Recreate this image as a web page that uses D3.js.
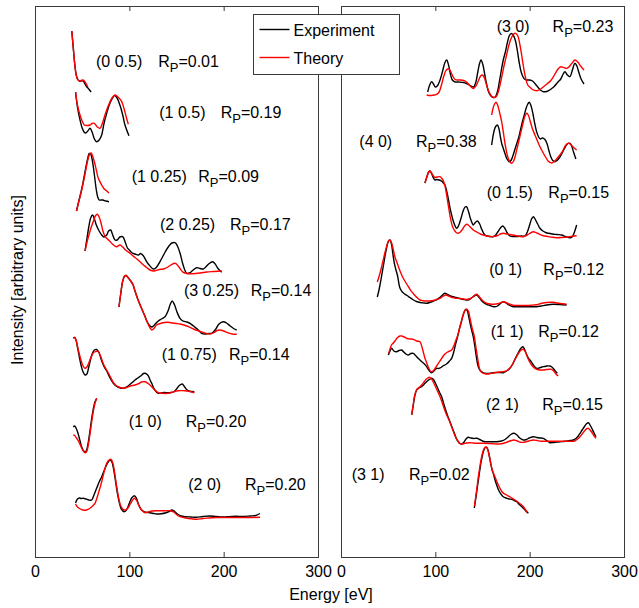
<!DOCTYPE html>
<html>
<head>
<meta charset="utf-8">
<script src="https://cdn.jsdelivr.net/npm/d3@7"></script>
<style>
  body { margin: 0; background: #fff; }
  svg { font-family: "Liberation Sans", Arial, Helvetica, sans-serif; }
</style>
</head>
<body>
<svg id="chart" width="639" height="608"></svg>
<script>
// beams, left panel
var leftBeams = ["(0 0.5)", "(1 0.5)", "(1 0.25)", "(2 0.25)", "(3 0.25)", "(1 0.75)", "(1 0)", "(2 0)"];
var leftRp = ["0.01", "0.19", "0.09", "0.17", "0.14", "0.14", "0.20", "0.20"];
// beams, right panel
var rightBeams = ["(3 0)", "(4 0)", "(0 1.5)", "(0 1)", "(1 1)", "(2 1)", "(3 1)"];
var rightRp = ["0.23", "0.38", "0.15", "0.12", "0.12", "0.15", "0.02"];

var xTicks = [0, 100, 200, 300];

// I(V) curves as [energy eV, intensity (arb. units, stacked)]
var exp_0_05 = [[39,526],[40.5,510],[42,494],[43.5,483],[45,478],[47,476],[49,476],[51,476],[53,473],[55,470],[57,468],[59.5,465]];
var thy_0_05 = [[39,526],[40.5,510],[42,494],[43.5,483],[45,478],[47,476],[49,476.5],[51,477],[53,475],[55,472],[56,470]];

var exp_1_05 = [[43,465],[45,450],[47.5,438],[50,429],[52,425],[53.7,424],[56,426],[58.3,428.7],[60.5,425],[63,418],[65.4,415.3],[68,417],[70.7,422],[73,433],[76,443.7],[80,455],[84.5,461.5],[87,459],[90,452],[93,442],[95.4,432],[99.6,421.3]];
var thy_1_05 = [[43,465],[45,452],[47.7,442],[50,436],[52.3,432],[55.5,431.5],[58.3,432],[60.5,433.5],[62.9,433.7],[66,430],[68.9,428.7],[71.5,434],[74.2,442],[78,452],[82,459.5],[84.8,462],[88,460],[91.9,455.3],[94.5,448],[97,439],[98.9,432.7]];

var exp_1_025 = [[44,346],[46,354],[48,362],[50,370],[52,380],[54,390],[56,399],[57.5,403.5],[59,403],[60.5,398],[62,389],[63.5,378],[65,367],[66.5,360],[68,357],[70,357],[72,357],[75,356],[78.4,355.3]];
var thy_1_025 = [[44,346],[46,354],[48,361],[50,369],[52,378],[54,388],[56,397],[58,403],[59.5,404],[61,401],[63,395],[65,387],[67,379],[70.7,372],[73,368.5],[75.5,366.5],[78.4,364]];

var exp_2_025 = [[53,306],[55,318],[57,330],[59,339],[61,342],[63,338],[65,332],[68,326],[70.7,322],[73,320],[76,322],[78,326],[80.2,327],[82,323],[84.8,317],[87,317],[90,320],[93,320.3],[96,314],[98,309],[100,307],[103,304],[106,303],[109.5,302],[112,303.5],[115,301],[118,296],[121,292],[125.4,288],[128,289],[131,293],[134,298],[138,305],[142,311],[145,314],[148.4,314.3],[151,311],[154,303],[157,292],[160.8,283.7],[164,284],[167,286.5],[171.4,289.3],[175,288.5],[178.4,288],[181,290],[184,293],[188.3,295.3],[191,293],[194,288.5],[197.9,284.7]];
var thy_2_025 = [[53,306],[56,318],[59,328],[62,336],[64,341],[66,342.7],[68,340],[70,334],[72,326],[74,321],[76,318.7],[79,316],[82,313],[84.5,311],[86.6,310.3],[90.1,312],[93,310],[96,307],[100.7,303.7],[104,301],[108,298],[111.3,295.3],[115,292],[119,289],[122,287],[125.4,286],[128,286.5],[132,287.5],[136,288],[140,289.5],[144,292],[148.4,293.7],[151,292],[154,288],[157.2,284.7],[162,283.5],[167,283.3],[175,284],[182,285],[190,285.5],[197.9,286]];

var exp_3_025 = [[89,250],[91,264],[93,276],[95,281],[96.5,281.5],[99,279],[101.5,276],[104,272],[106,266],[108.5,259],[111,253],[113,248.5],[116,242],[119,235],[122,231],[124,230],[127,232.5],[130.7,236],[134,238],[137.8,240.3],[141,246],[143.5,253],[145.5,256],[148,252],[150.5,245],[153.7,238.7],[157,236],[161,235],[164.3,233.7],[168,231],[172,228],[176.7,223.7],[180,223],[184,223.5],[187.3,223.7],[191,227],[195,233],[199.6,235.3],[203,234],[207,231],[210.5,228.5],[213.8,227]];
var thy_3_025 = [[89,250],[91,264],[93,276],[95,281],[96.5,281.5],[99,279],[101.5,276],[104,272],[106,266],[108.5,259],[111,253],[113,248.5],[116,242],[119,235],[122,229],[124,227],[126.5,229],[128.9,232],[133,233.5],[137,234.5],[141.3,234.7],[146,234],[150,233.5],[153.7,233],[158,232],[161,231],[164.3,229.7],[168,228],[172,226.5],[175,225.5],[178.4,224.7],[182,223.5],[185.5,223],[190,224.5],[193,226.5],[196.1,227],[200,226],[204,224.5],[209,223],[213.8,222.7]];

var exp_1_075 = [[40.5,219],[42,219.5],[43.5,217],[45,210],[47,200],[49,191],[51,185],[53,182],[55,183],[57,190],[59,198],[61,204],[63,207],[65.4,207.5],[68,204],[70,198],[72,193],[74,189],[76,186],[79,180],[83,173.7],[86,171],[89,169.5],[93.6,168.7],[97,170],[100,172],[103,174.5],[106,177],[109,179],[112,181],[115,183.5],[116.6,183.7],[119.5,182],[122,177],[123.7,173.7],[127,167],[130.7,163.7],[134,164],[137,164.5],[141.3,164.3],[144,164.5],[147,165],[150,168],[153,171.5],[156.1,173],[158,171],[160.5,167.7],[163,166],[166,165.5],[168.9,165.3]];
var thy_1_075 = [[40.5,219],[42,219.5],[43.5,217],[45,211],[47,203],[49,196],[51,191],[53,188.7],[55,190],[57,194],[59,199],[61,203],[63,205],[67,205.5],[69,202],[71,197],[73,192],[76,187],[80,180],[83,174.5],[86,171.5],[89,170],[93.6,168.7],[97,169.5],[101,171],[106,172],[110,173.5],[113,175],[116.6,175.3],[120,173.5],[123.7,170.3],[127,167],[130.7,164.3],[135,163.7],[141.3,163.7],[146,165],[151.9,166.3],[155,166.4],[159,166.3],[163,165.7],[168.9,164.3]];

var exp_1_0 = [[40.6,130],[42,131],[43.5,129],[45.5,124],[47.5,117],[49.5,110],[51.5,106],[53,105.3],[54.5,106.5],[56,112],[57.5,121],[59,131],[60.5,141],[62,149],[63.5,155],[65.4,158.7]];
var thy_1_0 = [[40.6,122],[42,121.5],[44,119],[46,116],[48,112],[50,108],[52,105],[53.7,104.3],[55,106],[56.5,112],[58,121],[59.5,131],[61,141],[62.5,149],[64,155],[65.5,158.5]];

var exp_2_0 = [[43,54],[45,58],[47,59],[49,58.5],[51.2,58.7],[54,58],[57,57],[60.1,57],[62.5,62],[65,68],[68,75],[70.7,80.3],[74,88],[77,94],[79.5,97],[81.5,95],[83.5,87],[85.5,75],[87.5,63],[89.5,54],[91.5,48],[94.7,45.3],[96.5,46.5],[98.5,50],[100.5,55],[102.5,59],[105.3,61.3],[107.5,59],[110,52],[113.1,47],[116,45],[121.9,44.3],[126,43.5],[128.9,43],[134,43.3],[138,44],[142,45.5],[145,47],[148,45.5],[151,43],[155,41],[159,40.3],[165,40],[171,39.7],[178,40.5],[185,41],[192,40.5],[199,40],[206,40.3],[213,40.7],[220,40.5],[228,41],[234,41.5],[238.5,43.5]];
var thy_2_0 = [[43,53],[45,50],[48,48],[51,47],[54.8,47],[57,48],[60,50],[63.6,53.7],[66,60],[68.5,68],[70.7,75.3],[73.5,86],[76,93.7],[78.5,97],[80.6,97.7],[82.5,94],[84.5,84],[86.6,70.3],[88.5,60],[90.5,52],[93,48],[96,47],[98.5,49],[101,53],[103.5,57],[105.5,58.7],[108,56],[110.5,50.5],[113,47],[116.6,44.3],[120,45],[124,46],[128.9,46.3],[134,46.3],[139,46.3],[143.1,46.3],[147,45],[150,42.5],[153.7,40.3],[160,39],[166,38.2],[171.4,37.7],[178,38.5],[185,39],[192,39.5],[200,39.5],[210,39.5],[220,39.5],[230,39.5],[238.5,39.7]];

var exp_3_0 = [[91.9,465],[94,472],[96.1,475.3],[98,473],[100,470],[102,471],[105,477],[108,487],[110,494],[112,497],[114,492],[116,483],[118,477],[121,475],[124,475],[127,474.7],[130,474.5],[133,473.5],[136,472],[138.5,470.5],[140.5,470],[143,475],[145,485],[147,494],[148.4,497],[150.5,492],[152.5,482],[154.5,472],[156.5,465],[159,461],[161.5,459.5],[163.5,460],[166,466],[168,476],[170,487],[172,497],[174.5,506],[176.5,515],[178.5,521.5],[180.5,523.5],[182.5,522],[185,516],[187,506],[189,494],[191,485],[193,480],[195,477.5],[197,477],[200,477],[203,476],[206,473],[209,469.5],[212,466.5],[214.5,465.3],[218,465.5],[222,467.5],[226,470.5],[230,475],[233,478],[235.5,483],[237.4,485.3],[240,482],[242.7,480.3],[245,486],[248,493.7],[250,491],[252,485],[254.5,478],[257.6,473]];
var thy_3_0 = [[90.8,462],[93,461.5],[96,461.5],[99,462],[101.4,462.7],[104,465],[106.5,472],[109,481],[111,486],[113,488],[115,487.5],[117,484],[119,480],[121,477.5],[124,477],[127,477],[130,476.5],[133,475],[136,472],[138.5,469.5],[140.5,468.5],[143,471],[145.5,476],[148,481],[150,482],[152,479],[154,473],[156.5,466],[159,461.5],[161,459.8],[163.2,459.7],[165,461],[167,466],[169,474],[171,483],[173,492],[175.5,502],[178,512],[180.5,519],[183,523],[185.2,523.7],[187.5,521],[189.5,513],[191.5,502],[193.5,490],[195.5,480],[198,472],[200.3,469.7],[203,467.5],[207.4,466.3],[211,467.5],[215,470.5],[219,473.5],[222,476],[225,480],[228,485],[231,489],[233,490.3],[236,489.5],[239.5,488.7],[242,490.5],[245,494],[248,497],[251,495],[254,491],[257.6,487]];

var exp_4_0 = [[159.7,412],[161,420],[162.5,427],[164,430.5],[165.8,432],[167.5,428],[169,420],[170.5,413],[172,408.7],[174,403],[176,398],[178.4,395.3],[180.5,397],[182.5,402],[184.5,408],[186.5,414],[188.5,420],[190,426],[192,434],[194,441],[196,448],[198,453],[199.6,454.7],[201.5,451],[203.5,443],[205.5,433],[207.4,425.3],[209.5,420],[211.5,418],[213.5,419],[216.2,417.5],[218.5,413],[220.5,406],[222.5,400],[224.5,396.5],[226.8,395.3],[229,396.5],[232,400],[235,405],[238,410.5],[240.5,413.5],[242.7,413.7],[244.5,411],[246.5,405],[249,398]];
var thy_4_0 = [[159.7,442],[161,448],[162.5,452.5],[164.3,454.7],[166,452],[168,445],[170.3,435.3],[172.5,422],[174.5,410],[176.5,401],[178.5,396],[180.9,393.7],[183,396],[185,402],[187,410],[189,418],[191,426],[193,434],[195,441],[196.8,443.7],[198.5,442],[200.5,436],[203,428],[205.6,422],[208,416.5],[210.5,411],[212.7,407],[215,403],[217.5,399],[219.5,396],[221.5,394.7],[223.5,394],[226,395.5],[229,398.5],[232,402],[235,406],[238,411.5],[240.9,413.7],[243,413],[246,410],[249.8,407]];

var exp_0_15 = [[89,374],[91,380],[93,385],[94.3,386],[96,383.5],[98,379],[99.6,377],[101.5,377.5],[104,377],[106.5,376],[108.5,374],[110.2,372],[112,366],[114,357],[116,347],[117.3,342],[119,336],[121,331],[122.6,328.7],[124.5,331],[127,338],[129.5,346],[131.5,350],[133,350.3],[135,346],[137,339],[139,334],[140.2,332],[142,334],[144.5,336],[147,333],[149,328],[151,324],[152.6,322],[155,321],[158,320.5],[161.4,320.3],[164,322],[166.5,325.5],[169,329],[171.4,331],[173.5,329],[176,324.5],[179.1,321],[183,320.5],[187,320.5],[191,321],[195,321],[197.5,325],[200,332],[202,338],[203.9,340.3],[206,337.5],[208.5,333],[210.9,328.7],[214,326],[217,324.5],[219.8,323.7],[224,323],[229,322.5],[233.9,322],[238,320.5],[242.7,319.3],[245,320],[247.5,325],[249.8,332]];
var thy_0_15 = [[89,374],[91,380],[93,385],[94.3,386],[96,384],[98,381],[100,379.5],[102,380],[104.9,380.3],[107,378.5],[109,375],[110.5,370],[112,362],[114,350],[116,339],[118,331],[120,327],[122,324.5],[124.3,323.7],[126.5,325],[129,328],[131,331],[133.2,332.7],[135.5,331.5],[138,329],[140.2,327],[143,325.5],[146,324],[149,322.5],[151,322],[154,321],[158,320.5],[162,320.5],[166,321.5],[169,323],[172,323.7],[176,323],[179,322.5],[182.5,322],[186,321.3],[190,320.5],[193.3,320.3],[196.5,321.5],[200,323.5],[203.9,325.3],[207.5,324],[211,322.5],[214.5,321.3],[219,320.5],[224,319.7],[228.6,319.3],[234,319.5],[240,320],[245,320.8],[249.8,321.3]];

var exp_0_1 = [[38.5,260],[40.5,268],[42.5,278],[44.5,289],[46.5,300],[48.5,310],[50.2,315.5],[51.9,317],[53.5,313],[55,303],[56.5,294],[58,288],[60,281],[62.5,269],[65,265],[67.5,263],[70,261.5],[73,259.5],[76,257.5],[80,255.5],[84,254.5],[88,254],[91,253.7],[94,254.5],[97,255.5],[101,257],[104,259],[107,261.5],[110,263.7],[113,262.5],[116,261],[119,260.3],[122,259.5],[126,258.5],[130,257.5],[133,257],[136,257.5],[139,259.5],[142,261.5],[144,262],[146,260],[148.5,257],[151,254.5],[154.4,252.7],[158,251.5],[161,250.5],[163.2,250.3],[166,251],[169,253.5],[172,255.3],[175,254],[178,252],[182.5,250.3],[188,250.3],[195,250.3],[202,250.3],[207,250.3],[212,251],[218,252],[225,252.7],[232,252.5],[239.2,252]];
var thy_0_1 = [[38.5,275],[40.5,281],[42.5,288],[44.5,296],[46.5,304],[48.5,311],[50.3,316],[51.9,317],[53.5,314.5],[55.5,307],[57.5,299],[59,295.3],[61,290],[63,285],[66,278.7],[69,274],[72,269.5],[74.9,265.3],[78,262],[81,259],[83.7,257],[87,256.3],[90,256],[94.3,256],[98,256.5],[101,257.5],[104.9,258.7],[108,260.5],[111,262],[114,261],[118,259.3],[122,258.7],[126,258.5],[130,258],[133,257.5],[136,258],[139,259.5],[142,262],[143.8,262.7],[146,261],[149,257.5],[152,255],[155,253.5],[158,253],[162,252.8],[166,253.2],[170,254.5],[172,255.3],[175,254.5],[178,253],[182.5,251.7],[188,251.5],[195,251.5],[202,251.8],[207,252.3],[212,253.5],[218,254.5],[225,254.7],[232,253.5],[239.2,252.7]];

var exp_1_1 = [[50.2,202],[52,206],[53.7,208.7],[56,206],[59,205.3],[61.5,206.5],[64.3,207],[67,204.5],[69.5,202.5],[71.4,202],[74,203.5],[76.6,203.7],[79,201.5],[81.5,199],[83.7,197],[86,195],[88.5,193],[90.8,190.3],[93,187],[94.8,185],[96.1,184.3],[98,185.5],[100,187.5],[101.4,188.7],[103.5,188.5],[106,189.5],[108,191],[110.2,192],[112.5,193.5],[115,196],[117.3,198.7],[119.5,205],[121.5,213],[123.5,220],[125.5,228],[127.5,235],[129.5,242],[131,246],[132.5,247.7],[134,246],[135.5,240],[137,233],[138.5,227],[140.2,220.3],[142,210],[143.5,200],[145.5,190.3],[148,186],[150.5,184.5],[152.6,183.7],[156,183.5],[160,184],[164,184.5],[168,184.5],[172,184.3],[175.5,186],[179.1,188.7],[182,193],[185,199],[188,204.5],[190.5,208.5],[192.6,210.3],[194.5,208],[196.5,203],[198.5,199],[200.3,197],[202.5,194],[205,190.5],[207.4,188.7],[210,189],[213,190],[216,190.5],[218.5,191],[221.5,191],[223.5,190],[225.5,188],[227.5,185.5],[229.3,183.7]];
var thy_1_1 = [[50.5,203.7],[52,208],[53.5,212],[55.5,214],[57.5,216.5],[60,219.5],[62.5,221],[64.3,221],[67,220],[70,218.5],[73,218],[76.6,217.7],[80,216],[83.7,215.3],[85.5,211],[87.5,204],[89,198.7],[91,193.7],[93,189],[95.4,185.3],[97.5,186],[100,189],[103.2,193.7],[106,197.5],[108,200.5],[110.2,203],[113,205],[117.3,207],[119.5,211],[121.5,216],[123.5,221],[125.5,228],[127.5,235],[129.5,242],[131.5,246.5],[133.2,247.7],[135,246],[136.5,240],[138,233],[139.5,227],[141,222],[143,210],[145,198],[147.3,187],[150,184],[154.4,183],[158,183.5],[163,184.3],[168,185],[172,185.3],[176,186.5],[179,189],[182,193],[185,198.5],[188,203.5],[191,207],[193.3,207.7],[195.5,205],[198,199],[200,195],[202,192],[205,189],[208,187.5],[211,187],[214.5,187],[218,187.5],[221,187.8],[223.3,187.7],[225.5,186],[227.8,183],[230.3,181]];

var exp_2_1 = [[74.9,142],[76.5,151],[78,160],[80.2,167],[82.5,169],[85.5,170.3],[87.5,172],[89,173.7],[91,175.5],[93,177],[94.5,178],[96.1,178.7],[98,177.5],[100,174],[102.5,169],[104.5,164.5],[106.7,160.3],[109,153],[111.5,145.5],[113.5,140],[115.5,135.3],[118,129],[120.5,123],[122.5,118],[124.3,115.3],[126,113.5],[127.9,113],[130,114.5],[132.5,118],[134.9,119.7],[137.5,119],[140.5,118.5],[143.8,118.7],[147,117.5],[150,116],[152.6,115.3],[157,115.3],[161,115.3],[165,115.3],[169,115.8],[173,117],[176.5,119.5],[180,122.5],[183.4,123.7],[186.5,122],[189.5,119],[193.3,117],[196.5,117.5],[199.5,119],[203.9,120.3],[207.5,119.5],[211,119],[214.5,118.7],[218,116.5],[221.5,114.3],[225,114.5],[228.5,115],[232.1,115.3],[236,115.5],[240,116],[243,116.5],[246.3,117],[249,118.5],[251.5,121],[253.4,123.7],[256,127.5],[258.5,131],[260.5,133.5],[262.2,134.3],[264,132],[266,128.5],[268,124.5],[270.3,120.3]];
var thy_2_1 = [[74.9,142],[76.5,152],[78,161],[80,167],[82,169],[84,170.5],[86,172.5],[88,175],[90,177.5],[92,179],[93.6,179.7],[95.5,178.5],[97.5,175.5],[99.5,171.5],[102,166.5],[104.5,161.5],[107,155],[109.5,148],[112,142],[114.5,137],[117,131],[119.5,124.5],[122,119],[124.3,115.5],[126,113.5],[127.9,113],[130,113.3],[133,114],[136.7,114.3],[140,114],[145,113.7],[150.9,113.7],[156,113.5],[161,113.2],[165,113],[170,113.3],[175,114.5],[179,116],[183.4,117],[187,116],[190.5,114.7],[194,114.8],[199,116],[203.9,117],[208,116.5],[212,115.8],[216,115.7],[221,115.7],[226,115.7],[231,115.7],[236,115.7],[241,115.7],[246.3,115.7],[249,116.8],[251.5,118.5],[253.4,120.3],[256,123.5],[258.5,126.5],[260.5,128.3],[262.2,128.7],[264,127],[266,124.5],[268,121.5],[270.3,118.7]];

var exp_3_1 = [[141.3,49],[142.5,56],[144,66],[145.5,76],[147,86],[148.5,95],[150,102],[151.5,107],[153,109.5],[154.4,109.7],[155.8,107],[157.2,101],[158.8,93],[160.2,87],[161.4,83.7],[163,78],[165,72],[167,67],[169.5,63],[172,60.3],[175,59],[178,58],[181,57.7],[183.5,56.5],[186.3,55.3],[189,52.5],[192,50],[195,47],[198.6,43.7]];
var thy_3_1 = [[141.5,51],[142.5,58],[143.8,67],[145,76],[146.5,86],[148,95],[149.5,102],[151,107],[152.5,109.5],[154,110],[155.5,107.5],[157,102],[158.5,95],[160,88],[161.5,84],[163.2,80.3],[165,76],[166.8,72],[168.5,68.7],[170.5,65.5],[172.5,63.5],[175.6,62],[178.5,60.3],[181.5,58.7],[184.4,57],[187.5,55],[189.5,53.5],[191.5,52],[194,49.5],[197.5,44.3]];

var leftExp = [exp_0_05, exp_1_05, exp_1_025, exp_2_025, exp_3_025, exp_1_075, exp_1_0, exp_2_0];
var leftThy = [thy_0_05, thy_1_05, thy_1_025, thy_2_025, thy_3_025, thy_1_075, thy_1_0, thy_2_0];
var rightExp = [exp_3_0, exp_4_0, exp_0_15, exp_0_1, exp_1_1, exp_2_1, exp_3_1];
var rightThy = [thy_3_0, thy_4_0, thy_0_15, thy_0_1, thy_1_1, thy_2_1, thy_3_1];

// where each label sits, in energy / intensity
var leftNameE = [64.7, 131.7, 102.5, 132.5, 157.9, 134.3, 99.5, 162.5];
var leftRpE = [130.6, 196.8, 173.1, 206.7, 228.6, 205.6, 159.7, 222.6];
var leftLabelI = [490.3, 438.7, 375.3, 327, 261, 197, 130, 67];
var rightNameE = [165, 19.4, 154.4, 157.2, 158.7, 153.7, 11.3];
var rightRpE = [224.3, 79.5, 219.8, 214.5, 209.1, 213.4, 72.1];
var rightLabelI = [525.3, 410.3, 358.7, 282, 220.3, 147, 77];

var svg = d3.select("#chart"),
    frame = "#3a3a3a",
    top_px = 6,
    bottom_px = 557;

var y = d3.scaleLinear().domain([0, 551]).range([bottom_px, top_px]);

var panels = [
  { x: d3.scaleLinear().domain([0, 300]).range([35, 318]), exp: leftExp, thy: leftThy,
    beams: leftBeams, rp: leftRp, nameE: leftNameE, rpE: leftRpE, labI: leftLabelI },
  { x: d3.scaleLinear().domain([0, 300]).range([341, 624]), exp: rightExp, thy: rightThy,
    beams: rightBeams, rp: rightRp, nameE: rightNameE, rpE: rightRpE, labI: rightLabelI }
];

panels.forEach(function(p) {
  var g = svg.append("g"),
      x0 = p.x.range()[0],
      x1 = p.x.range()[1];

  var line = d3.line()
    .x(function(d) { return p.x(d[0]); })
    .y(function(d) { return y(d[1]); })
    .curve(d3.curveCatmullRom.alpha(0.5));

  for (var i = 0; i < p.exp.length; i++) {
    g.append("path").attr("d", line(p.exp[i]))
      .attr("fill", "none").attr("stroke", "#000").attr("stroke-width", 1.4);
    g.append("path").attr("d", line(p.thy[i]))
      .attr("fill", "none").attr("stroke", "#ff0000").attr("stroke-width", 1.4);
  }

  // beam labels with R_P
  for (var j = 0; j < p.beams.length; j++) {
    g.append("text")
      .attr("x", p.x(p.nameE[j])).attr("y", y(p.labI[j]))
      .attr("font-size", 16).text(p.beams[j]);
    var t = g.append("text")
      .attr("x", p.x(p.rpE[j])).attr("y", y(p.labI[j]))
      .attr("font-size", 16);
    t.append("tspan").text("R");
    t.append("tspan").attr("dy", 5).attr("font-size", 13).text("P");
    t.append("tspan").attr("dy", -5).text("=" + p.rp[j]);
  }

  var axis = d3.axisBottom(p.x).tickValues(xTicks).tickSizeInner(-5).tickSizeOuter(0).tickPadding(9);
  var ax = g.append("g").attr("transform", "translate(0," + bottom_px + ")").call(axis);
  ax.select(".domain").remove();
  ax.selectAll("line").attr("stroke", frame);
  ax.selectAll("text").attr("font-size", 16).attr("font-family", null).attr("fill", "#000");

  var axTop = d3.axisTop(p.x).tickValues([100, 200]).tickSizeInner(-5).tickSizeOuter(0).tickFormat("");
  var at = g.append("g").attr("transform", "translate(0," + top_px + ")").call(axTop);
  at.select(".domain").remove();
  at.selectAll("line").attr("stroke", frame);

  g.append("rect")
    .attr("x", x0 + 0.5).attr("y", top_px + 0.5)
    .attr("width", x1 - x0).attr("height", bottom_px - top_px)
    .attr("fill", "none").attr("stroke", frame).attr("stroke-width", 1);
});

svg.append("text")
  .attr("x", 331).attr("y", 600)
  .attr("text-anchor", "middle").attr("font-size", 16)
  .text("Energy [eV]");

svg.append("text")
  .attr("transform", "translate(23,280) rotate(-90)")
  .attr("text-anchor", "middle").attr("font-size", 16)
  .text("Intensity [arbitrary units]");

// legend
var legend = svg.append("g").attr("transform", "translate(253.5,14.5)");
legend.append("rect").attr("width", 146).attr("height", 60)
  .attr("fill", "#fff").attr("stroke", frame);
var entries = [["Experiment", "#000"], ["Theory", "#ff0000"]];
entries.forEach(function(e, k) {
  var ly = 15 + k * 28;
  legend.append("line").attr("x1", 6).attr("x2", 36).attr("y1", ly).attr("y2", ly)
    .attr("stroke", e[1]).attr("stroke-width", 1.4);
  legend.append("text").attr("x", 40).attr("y", ly + 6).attr("font-size", 16).text(e[0]);
});
</script>
</body>
</html>
